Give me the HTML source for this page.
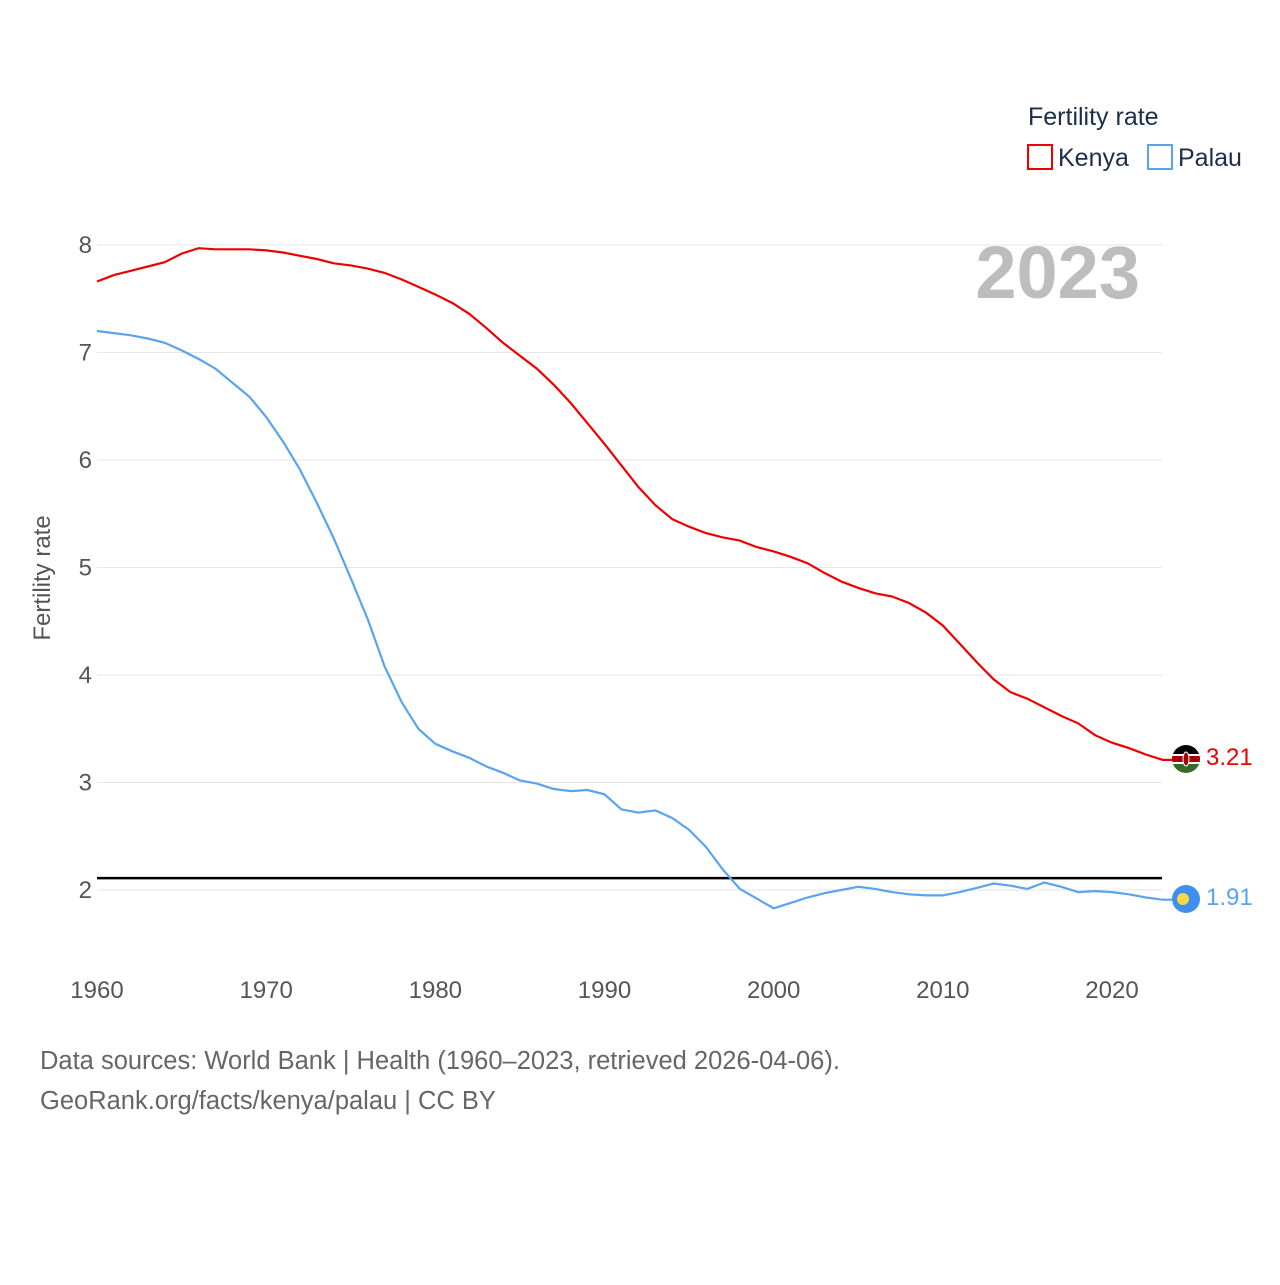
<!DOCTYPE html>
<html><head><meta charset="utf-8"><style>
body{margin:0;background:#fff;font-family:"Liberation Sans",sans-serif;}
svg text{font-family:"Liberation Sans",sans-serif;}
</style></head><body>
<svg id="chart" width="1280" height="1280" viewBox="0 0 1280 1280">
<defs><clipPath id="kc"><circle cx="1186" cy="759" r="14"/></clipPath></defs>
<g id="grid"></g>
<g id="yticks"></g>
<g id="xticks"></g>
<text x="1140" y="298" text-anchor="end" font-size="74" font-weight="bold" fill="#bdbdbd">2023</text>
<text transform="translate(50,578) rotate(-90)" text-anchor="middle" font-size="24" fill="#555">Fertility rate</text>
<line id="ref" x1="97" x2="1162" stroke="#000" stroke-width="2.5"/>
<path id="kenya" fill="none" stroke="#ee0000" stroke-width="2.2"/>
<path id="palau" fill="none" stroke="#5aa4ee" stroke-width="2.2"/>
<g clip-path="url(#kc)">
<rect x="1172" y="745" width="28" height="9" fill="#000"/><rect x="1172" y="754" width="28" height="2" fill="#fff"/>
<rect x="1172" y="756" width="28" height="6" fill="#a00"/><rect x="1172" y="762" width="28" height="2" fill="#fff"/>
<rect x="1172" y="764" width="28" height="10" fill="#3a6a2a"/><ellipse cx="1186" cy="759" rx="3" ry="7" fill="#a00" stroke="#fff" stroke-width="1"/></g>
<circle cx="1186" cy="899" r="14" fill="#3e8ff0"/>
<circle cx="1183" cy="899" r="6" fill="#fcd83c"/>
<text x="1206" y="765" font-size="24" fill="#ee0000">3.21</text>
<text x="1206" y="905" font-size="24" fill="#5aa4ee">1.91</text>
<text x="1028" y="125" font-size="25" fill="#1e2d4a">Fertility rate</text>
<g><rect x="1028" y="145" width="24" height="24" fill="none" stroke="#ee0000" stroke-width="2"/><text x="1058" y="166" font-size="25" fill="#1e2d4a">Kenya</text></g>
<g><rect x="1148" y="145" width="24" height="24" fill="none" stroke="#5aa4ee" stroke-width="2"/><text x="1178" y="166" font-size="25" fill="#1e2d4a">Palau</text></g>
<text x="40" y="1069" font-size="25.5" fill="#666">Data sources: World Bank | Health (1960–2023, retrieved 2026-04-06).</text>
<text x="40" y="1109" font-size="25.5" fill="#666">GeoRank.org/facts/kenya/palau | CC BY</text>
</svg>
<script>
const years=[];for(let y=1960;y<=2023;y++)years.push(y);
const kenya=[7.66,7.72,7.76,7.8,7.84,7.92,7.97,7.96,7.96,7.96,7.95,7.93,7.9,7.87,7.83,7.81,7.78,7.74,7.68,7.61,7.54,7.46,7.36,7.23,7.09,6.97,6.85,6.7,6.53,6.34,6.15,5.95,5.75,5.58,5.45,5.38,5.32,5.28,5.25,5.19,5.15,5.1,5.04,4.95,4.87,4.81,4.76,4.73,4.67,4.58,4.46,4.29,4.12,3.96,3.84,3.78,3.7,3.62,3.55,3.44,3.37,3.32,3.26,3.21];
const palau=[7.2,7.18,7.16,7.13,7.09,7.02,6.94,6.85,6.72,6.59,6.4,6.17,5.91,5.6,5.27,4.9,4.52,4.08,3.75,3.5,3.36,3.29,3.23,3.15,3.09,3.02,2.99,2.94,2.92,2.93,2.89,2.75,2.72,2.74,2.67,2.56,2.4,2.19,2.01,1.92,1.83,1.88,1.93,1.97,2.0,2.03,2.01,1.98,1.96,1.95,1.95,1.98,2.02,2.06,2.04,2.01,2.07,2.03,1.98,1.99,1.98,1.96,1.93,1.91];
const yTicks=[2,3,4,5,6,7,8];
const xTicks=[1960,1970,1980,1990,2000,2010,2020];
const replacement=2.11;
const X=v=>97+(v-1960)*(1112-97)/60;
const Y=v=>890-(v-2)*107.5;
const NS='http://www.w3.org/2000/svg';
const grid=document.getElementById('grid'),yt=document.getElementById('yticks'),xt=document.getElementById('xticks');
yTicks.forEach(t=>{
 const l=document.createElementNS(NS,'line');
 
 
 l.setAttribute('x1',97);l.setAttribute('x2',1162);l.setAttribute('y1',Y(t));l.setAttribute('y2',Y(t));
 l.setAttribute('stroke','#e6e6e6');l.setAttribute('stroke-width','1');grid.appendChild(l);
 const tx=document.createElementNS(NS,'text');
 
 
 tx.setAttribute('x',92);tx.setAttribute('y',Y(t)+8);tx.setAttribute('text-anchor','end');
 tx.setAttribute('font-size','24');tx.setAttribute('fill','#555');tx.textContent=t;yt.appendChild(tx);
});
xTicks.forEach(t=>{
 const tx=document.createElementNS(NS,'text');
 
 
 tx.setAttribute('x',X(t));tx.setAttribute('y',998);tx.setAttribute('text-anchor','middle');
 tx.setAttribute('font-size','24');tx.setAttribute('fill','#555');tx.textContent=t;xt.appendChild(tx);
});
const r=document.getElementById('ref');r.setAttribute('y1',Y(replacement));r.setAttribute('y2',Y(replacement));
const path=arr=>arr.map((v,i)=>(i?'L':'M')+X(years[i]).toFixed(1)+','+Y(v).toFixed(1)).join('');
document.getElementById('kenya').setAttribute('d',path(kenya)+'L1172,'+Y(kenya[kenya.length-1]).toFixed(1));
document.getElementById('palau').setAttribute('d',path(palau)+'L1172,'+Y(palau[palau.length-1]).toFixed(1));
</script>
</body></html>
